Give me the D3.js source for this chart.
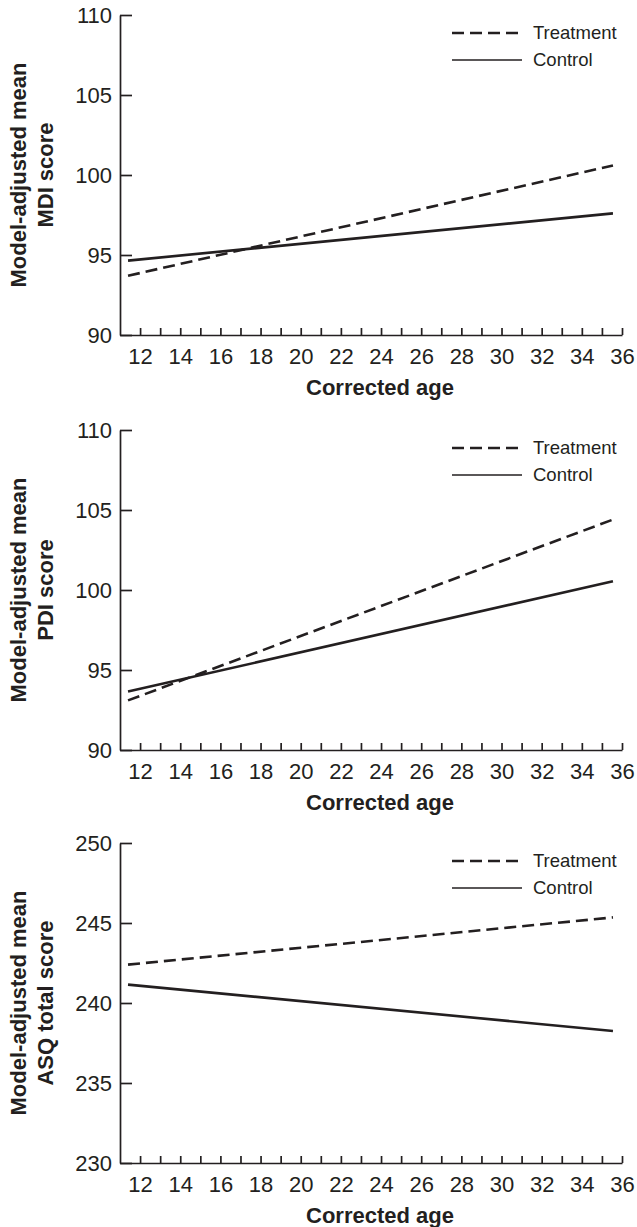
<!DOCTYPE html>
<html lang="en">

<head>
    <meta charset="UTF-8">
    <title>Model-adjusted mean scores by corrected age</title>
    <script src="https://cdn.jsdelivr.net/npm/d3@7"></script>

    <style>
        body {
            margin: 0;
            background-color: #fff;
            font-family: 'Liberation Sans', Arial, sans-serif;
        }

        svg text {
            fill: #231f20;
        }

        .tick text {
            font-size: 22px;
        }

        .axis-title {
            font-size: 22px;
            font-weight: bold;
        }

        .legend-text {
            font-size: 18.5px;
        }
    </style>
</head>

<body>
    <svg width="637" height="1227"></svg>

    <script>
        // line end points (corrected age, months)
        const ages = [11.4, 35.55];

        const mdiTreatment = [93.7, 100.6];
        const mdiControl = [94.65, 97.6];

        const pdiTreatment = [93.1, 104.4];
        const pdiControl = [93.65, 100.55];

        const asqTreatment = [242.4, 245.35];
        const asqControl = [241.15, 238.25];

        const mdiTicks = [90, 95, 100, 105, 110];
        const pdiTicks = [90, 95, 100, 105, 110];
        const asqTicks = [230, 235, 240, 245, 250];

        const xTicks = d3.range(12, 37);
        const legendLabels = ["Treatment", "Control"];

        const panels = [
            { label: "MDI score", treatment: mdiTreatment, control: mdiControl, ticks: mdiTicks, top: 15 },
            { label: "PDI score", treatment: pdiTreatment, control: pdiControl, ticks: pdiTicks, top: 430 },
            { label: "ASQ total score", treatment: asqTreatment, control: asqControl, ticks: asqTicks, top: 843 }
        ];

        const svg = d3.select("svg");
        const ink = "#231f20";
        const plotH = 320;

        const x = d3.scaleLinear().domain([11, 36]).range([120, 622]);

        panels.forEach(function (p) {
            const g = svg.append("g").attr("transform", "translate(0," + p.top + ")");

            const y = d3.scaleLinear()
                .domain([p.ticks[0], p.ticks[p.ticks.length - 1]])
                .range([plotH, 0]);

            //////////// AXES
            const yAxis = g.append("g")
                .attr("transform", "translate(120,0)")
                .call(d3.axisLeft(y).tickValues(p.ticks).tickSizeInner(-12).tickSizeOuter(0).tickPadding(8));

            const xAxis = g.append("g")
                .attr("transform", "translate(0," + plotH + ")")
                .call(d3.axisBottom(x).tickValues(xTicks).tickSizeInner(-7).tickSizeOuter(0).tickPadding(13)
                    .tickFormat(d => d % 2 === 0 ? d : ""));

            [yAxis, xAxis].forEach(function (a) {
                a.attr("font-family", null).attr("font-size", null);
                a.selectAll("path, line").attr("stroke", ink).attr("stroke-width", 1.7);
                a.selectAll("text").attr("fill", ink);
            });

            g.append("text")
                .attr("class", "axis-title")
                .attr("x", 380)
                .attr("y", plotH + 60)
                .attr("text-anchor", "middle")
                .text("Corrected age");

            const title = g.append("text")
                .attr("class", "axis-title")
                .attr("text-anchor", "middle")
                .attr("transform", "translate(0," + (plotH / 2) + ") rotate(-90)");
            title.append("tspan").attr("x", 0).attr("y", 26).text("Model-adjusted mean");
            title.append("tspan").attr("x", 0).attr("y", 53).text(p.label);

            //////////// LINES
            const line = d3.line()
                .x(d => x(d[0]))
                .y(d => y(d[1]));

            g.append("path")
                .datum(ages.map((a, i) => [a, p.treatment[i]]))
                .attr("d", line)
                .attr("fill", "none")
                .attr("stroke", ink)
                .attr("stroke-width", 2.6)
                .attr("stroke-dasharray", "12,6");

            g.append("path")
                .datum(ages.map((a, i) => [a, p.control[i]]))
                .attr("d", line)
                .attr("fill", "none")
                .attr("stroke", ink)
                .attr("stroke-width", 2.6);

            //////////// LEGEND
            const legend = g.append("g").selectAll("g")
                .data(legendLabels)
                .enter()
                .append("g")
                .attr("transform", (d, i) => "translate(0," + (18 + i * 27) + ")");

            legend.append("line")
                .attr("x1", 452)
                .attr("x2", (d, i) => i === 0 ? 518 : 522)
                .attr("stroke", ink)
                .attr("stroke-width", (d, i) => i === 0 ? 2.6 : 1.5)
                .attr("stroke-dasharray", (d, i) => i === 0 ? "12,6" : null);

            legend.append("text")
                .attr("class", "legend-text")
                .attr("x", 533)
                .attr("dy", "0.35em")
                .text(d => d);
        });
    </script>
</body>

</html>
